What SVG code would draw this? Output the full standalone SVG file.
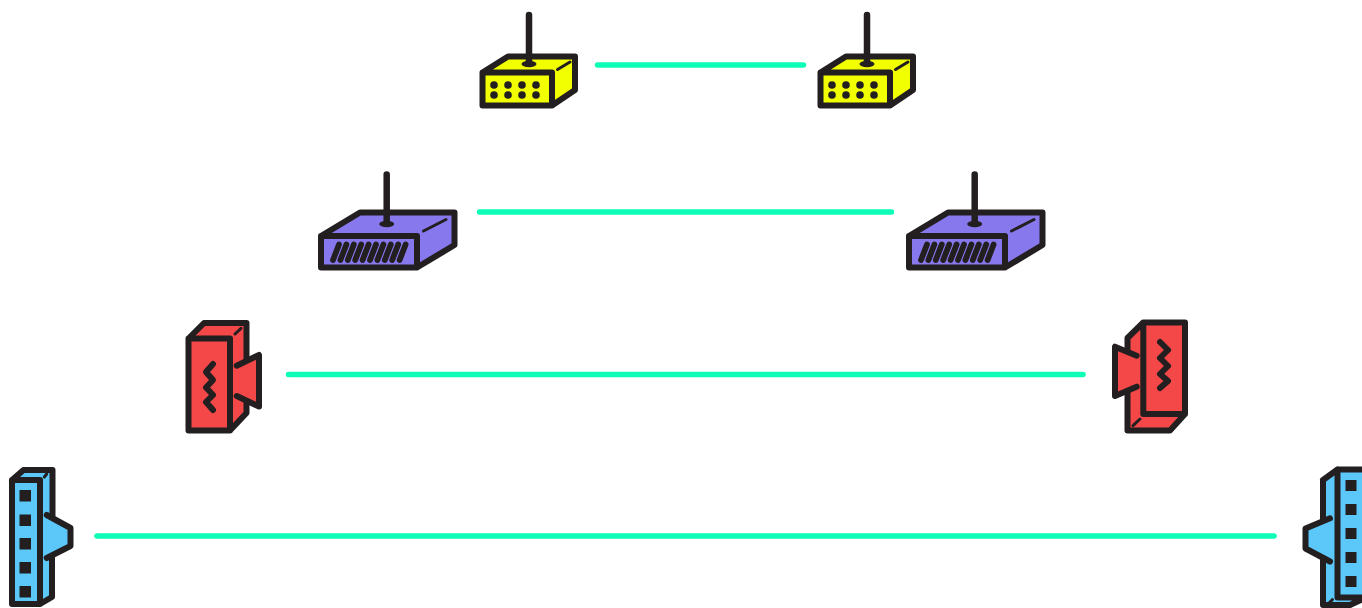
<svg xmlns="http://www.w3.org/2000/svg" width="1362" height="608" viewBox="0 0 1362 608">
<style>
.f{stroke:none}
.l{fill:none;stroke:#231f20;stroke-width:6;stroke-linejoin:round;stroke-linecap:round}
.a{fill:none;stroke:#231f20;stroke-width:6.5;stroke-linecap:round}
.v{fill:none;stroke:#231f20;stroke-width:5.800;stroke-linecap:round}
.t{fill:none;stroke:#231f20;stroke-width:3;stroke-linecap:round}
.d{fill:#231f20}
.y{fill:#f2ff00}.p{fill:#8878ee}.r{fill:#f44848}.b{fill:#5cc8fa}
.c{fill:none;stroke:#0dfdb6;stroke-width:5.500;stroke-linecap:round}
</style>
<defs>
<g id="yellowBox">
<path class="y f" d="M482.500 72.500L508 56.500H575V90L552 105.500H482.500Z"/>
<path class="l" d="M482.500 72.500L508 56.500H575V90L552 105.500H482.500ZM482.500 72.500H552V105.500"/>
<path class="t" d="M557.500 69.500L570 62"/>
<path class="a" d="M529 15V62"/>
<ellipse class="d" cx="529" cy="64" rx="7.500" ry="3.200"/>
<g class="d"><circle cx="494" cy="85" r="3.800"/><circle cx="508" cy="85" r="3.800"/><circle cx="522" cy="85" r="3.800"/><circle cx="536" cy="85" r="3.800"/><circle cx="494" cy="95" r="3.800"/><circle cx="508" cy="95" r="3.800"/><circle cx="522" cy="95" r="3.800"/><circle cx="536" cy="95" r="3.800"/></g>
</g>
<g id="purpleBox">
<path class="p f" d="M321 236L360 212.500H454.500V245L417 267.500H321Z"/>
<path class="l" d="M321 236L360 212.500H454.500V245L417 267.500H321ZM321 236H417V267.500"/>
<path class="t" d="M423.500 231L446 219.500"/>
<path class="a" d="M386.700 174.500V222"/>
<ellipse class="d" cx="386.700" cy="224" rx="7.500" ry="3.200"/>
<path class="v" d="M333 260L339 244.500M340.400 260L346.400 244.500M347.800 260L353.800 244.500M355.200 260L361.200 244.500M362.600 260L368.600 244.500M370 260L376 244.500M377.400 260L383.400 244.500M384.800 260L390.800 244.500M392.200 260L398.200 244.500M399.600 260L405.600 244.500"/>
</g>
</defs>
<g id="connectors">
<line class="c" x1="597.500" y1="65" x2="803.500" y2="65"/>
<line class="c" x1="479.500" y1="212" x2="891.500" y2="212"/>
<line class="c" x1="288.500" y1="374.500" x2="1083" y2="374.500"/>
<line class="c" x1="97" y1="536" x2="1274" y2="536"/>
</g>
<g id="node-yellow-left"><use href="#yellowBox"/></g>
<g id="node-yellow-right"><use href="#yellowBox" x="338"/></g>
<g id="node-purple-left"><use href="#purpleBox"/></g>
<g id="node-purple-right"><use href="#purpleBox" x="588"/></g>
<g id="node-red-left">
<path class="r f" d="M188.500 338.500L204 323H246.500V361L259 355V406.500L246.500 401V413L230 430.500H188.500Z"/>
<path class="l" d="M236.700 365.700L259 355V406.500L236.700 396"/>
<path class="l" d="M246.500 360V323H204L188.500 338.500V430.500H230L246.500 413V401M188.500 338.500H230V430.500"/>
<path class="t" d="M235 334L241 328.300"/>
<path class="l" d="M213 364L206 372L213 380L206 387.500L213 395L206 402L213 410"/>
</g>
<g id="node-red-right">
<path class="r f" d="M1143.300 322.500L1127.500 338V351L1115 346.700V396L1127.500 391V430.500H1170L1185 414V322.500Z"/>
<path class="l" d="M1136.700 355.700L1115 346.700V396L1136.700 386.700"/>
<path class="l" d="M1127.500 351V338L1143.300 322.500H1185V414L1170 430.500H1127.500V391M1143.300 322.500V414H1185"/>
<path class="t" d="M1133 425.700L1140 419"/>
<path class="l" d="M1160 342L1168 350L1160 358L1168 366L1160 374L1168 381L1160 388"/>
</g>
<g id="node-blue-left">
<path class="b f" d="M12 480L23.500 470H52.500V518L70.500 528V546L52 555V597L40 604H12Z"/>
<path class="l" d="M46.700 515L70.500 528V546L46.700 558"/>
<path class="l" d="M52.500 516V470H23.500L12 480V604H40L52 597V556M12 480H40V604"/>
<path class="t" d="M44.300 477L46.700 474"/>
<g class="d"><rect x="19.500" y="490" width="11.500" height="11.500"/><rect x="19.500" y="514.500" width="11.500" height="11.500"/><rect x="19.500" y="538" width="11.500" height="11.500"/><rect x="19.500" y="562" width="11.500" height="11.500"/><rect x="19.500" y="586" width="11.500" height="11.500"/></g>
</g>
<g id="node-blue-right">
<path class="b f" d="M1323 480L1337.500 469.500H1366V597L1350 605H1323V555L1305.500 548.500V528.500L1323 521Z"/>
<path class="l" d="M1330 518.300L1305.500 528.500V548.500L1330 561.500"/>
<path class="l" d="M1323 520V480L1337.500 469.500H1366M1323 558V605H1350L1366 597.500H1337.500V469.500M1323 480L1337.500 469.500"/>
<path class="t" d="M1329 603L1332.500 599.500"/>
<g class="d"><rect x="1345.500" y="480" width="11" height="11"/><rect x="1345.500" y="504" width="11" height="11"/><rect x="1345.500" y="528" width="11" height="11"/><rect x="1345.500" y="552" width="11" height="11"/><rect x="1345.500" y="576" width="11" height="11"/></g>
</g>
</svg>
